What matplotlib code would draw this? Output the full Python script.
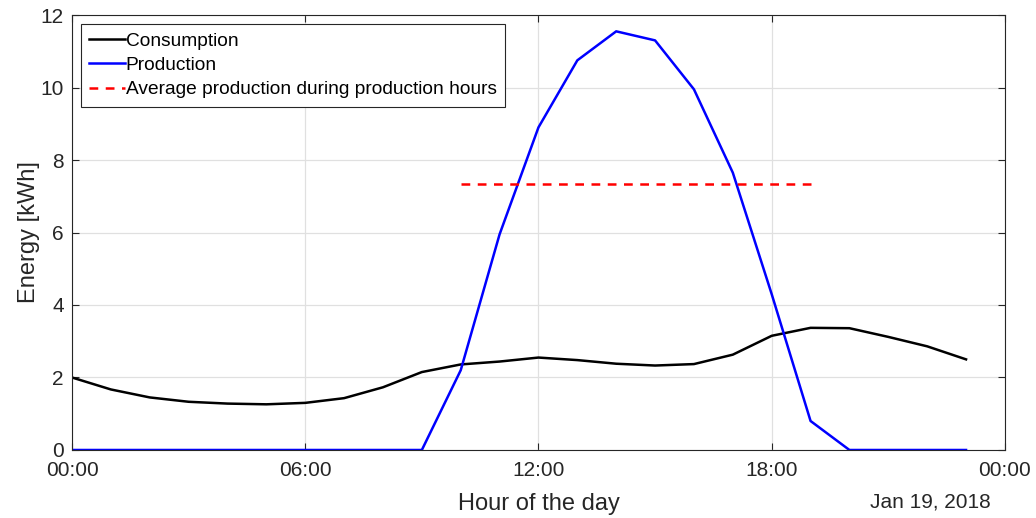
import numpy as np
import matplotlib
matplotlib.use("Agg")
from matplotlib import pyplot as plt

plt.rcParams['font.family'] = ['Liberation Sans', 'DejaVu Sans']

# Data (hourly values)
hours = list(range(24))
consumption = [2.00, 1.67, 1.45, 1.33, 1.28, 1.26, 1.30, 1.43, 1.73, 2.15,
               2.36, 2.44, 2.55, 2.48, 2.38, 2.33, 2.37, 2.63, 3.15, 3.37,
               3.36, 3.12, 2.86, 2.50]
production = [0, 0, 0, 0, 0, 0, 0, 0, 0, 0,
              2.20, 5.95, 8.90, 10.75, 11.55, 11.30, 9.95, 7.65, 4.30, 0.80,
              0, 0, 0, 0]
tick_hours = [0, 6, 12, 18, 24]
tick_labels = ["00:00", "06:00", "12:00", "18:00", "00:00"]
date_label = "Jan 19, 2018"

# Average over production hours
prod_hours = [h for h, p in zip(hours, production) if p > 0]
avg_prod = np.mean([p for p in production if p > 0])

fig = plt.figure(figsize=(10.36, 5.18), dpi=100)
ax = fig.add_axes([0.0695, 0.1313, 0.9005, 0.8397])

ax.plot(hours, consumption, color='black', lw=1.8, label='Consumption')
ax.plot(hours, production, color='blue', lw=1.8, label='Production')
ax.plot([prod_hours[0], prod_hours[-1]], [avg_prod, avg_prod], color='red',
        lw=1.8, ls=(0, (3.5, 3)), label='Average production during production hours')

ax.set_xlim(0, 24)
ax.set_ylim(0, 12)
ax.set_xticks(tick_hours)
ax.set_xticklabels(tick_labels)
ax.set_yticks(range(0, 13, 2))

gray = '#262626'
ax.grid(True, color='#e0e0e0', lw=0.9)
ax.set_axisbelow(True)
for s in ax.spines.values():
    s.set_color(gray)
    s.set_linewidth(0.8)
ax.tick_params(direction='in', top=True, right=True, length=5, width=0.8,
               colors=gray, labelsize=15)
ax.tick_params(axis='x', pad=8)
ax.tick_params(axis='y', pad=6)
ax.set_xlabel("Hour of the day", fontsize=17, color=gray, labelpad=9)
ax.set_ylabel("Energy [kWh]", fontsize=17, color=gray, labelpad=0)
ax.text(0.985, -0.12, date_label, transform=ax.transAxes, ha='right', va='center',
        fontsize=15, color=gray)

leg = ax.legend(loc='upper left', fontsize=13.8, handlelength=1.85, handletextpad=0.05,
                borderpad=0.45, labelspacing=0.36, borderaxespad=0.45,
                fancybox=False, framealpha=1)
leg.get_frame().set_edgecolor(gray)
leg.get_frame().set_linewidth(0.8)

fig.savefig("out.png", dpi=100)
